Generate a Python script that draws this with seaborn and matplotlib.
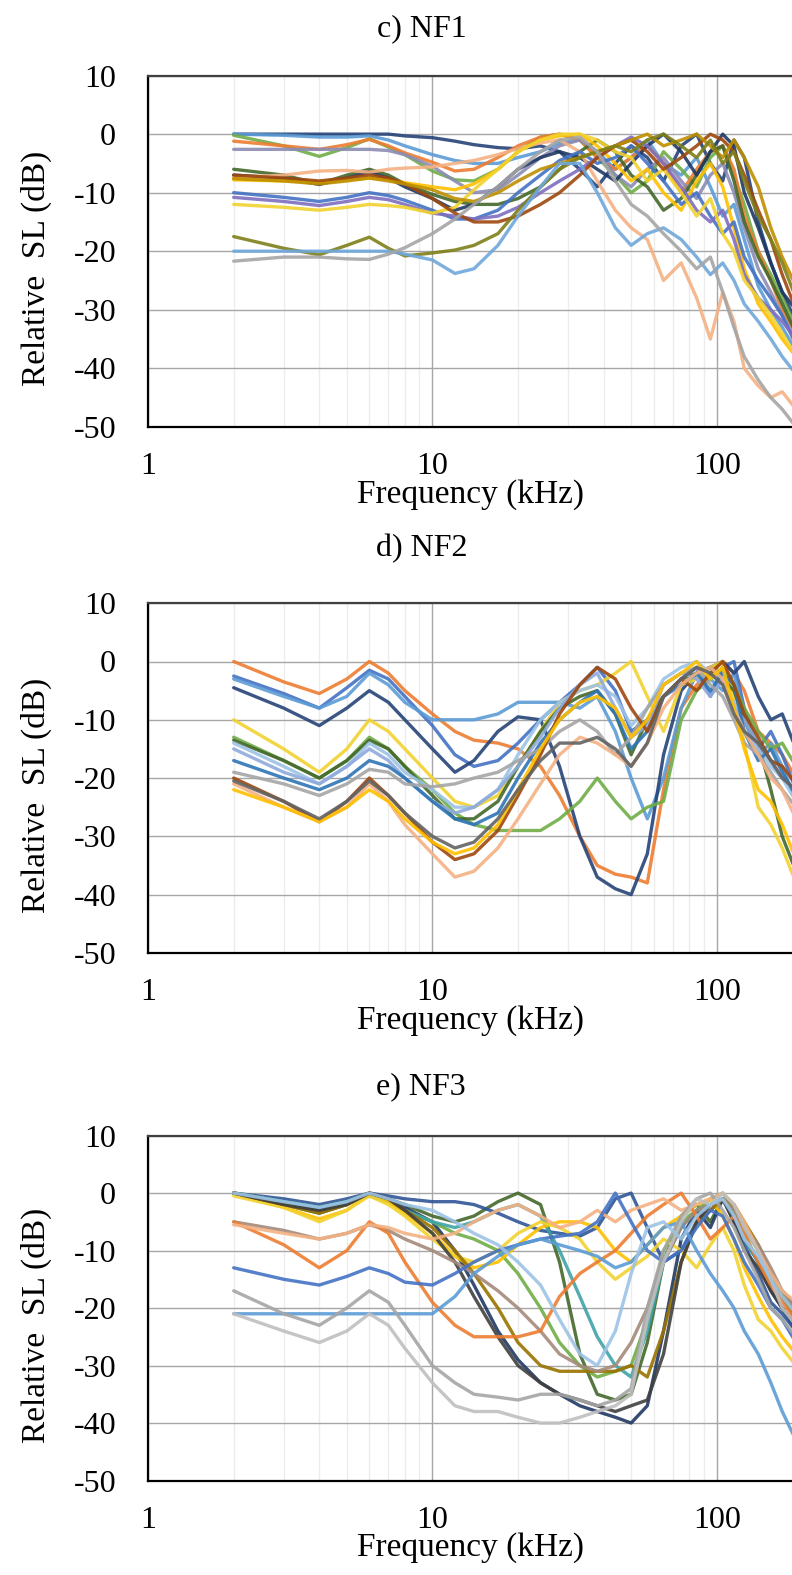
import numpy as np
import pandas as pd
import matplotlib
matplotlib.use("Agg")
import matplotlib.pyplot as plt
import matplotlib.ticker as mticker
import seaborn as sns

sns.set_theme(style="white")
plt.rcParams["font.family"] = ["Liberation Serif", "DejaVu Serif"]
plt.rcParams["axes.unicode_minus"] = False
for key in ("text.color", "axes.labelcolor", "xtick.color", "ytick.color"):
    plt.rcParams[key] = "black"

# Frequency grid (kHz) shared by every response curve
freq_khz = [2, 3, 4, 5, 6, 7, 8, 10, 12, 14, 17, 20, 24, 28, 33, 38, 44, 50,
            57, 65, 75, 85, 95, 105, 115, 125, 140, 155, 170, 190]

x_ticks = [1, 10, 100]
x_tick_labels = ["1", "10", "100"]
y_ticks = [-50, -40, -30, -20, -10, 0, 10]
y_tick_labels = ["-50", "-40", "-30", "-20", "-10", "0", "10"]

# ---- c) NF1: relative source level (dB) per recording ----
nf1_curves = {
    "#264478": [0, 0, 0, 0, 0, 0, -0.3, -0.6, -1.2, -1.8, -2.3, -2.5, -2, -3, -6, -9, -5, -2, -4, -8, -2, 0, -5, -8, -1, -4, -15, -22, -27, -32],
    "#5B9BD5": [0, -0.2, -0.5, -0.5, -0.3, -1, -2, -3.5, -4.5, -5, -5, -4, -3, -1.5, -1, -3, -6, -4, -1, -5, -7, -4, -9, -14, -12, -18, -26, -30, -33, -37],
    "#70AD47": [-0.2, -2, -3.8, -2.3, -0.8, -2.2, -3.5, -6.3, -7.8, -8, -6, -3, -0.5, 0, -1, -4, -7, -10, -8, -3, -6, -9, -4, -2, -7, -12, -20, -24, -28, -33],
    "#ED7D31": [-1.2, -2, -2.6, -1.8, -0.9, -2, -3.2, -4.8, -6.3, -6, -4, -2, -0.5, 0, -1, -4, -6, -4, -2, -5, -10, -6, -3, -2, -6, -14, -20, -25, -30, -34],
    "#8C8CB4": [-2.6, -2.6, -2.6, -2.6, -2.6, -2.8, -3.5, -5.5, -8, -10, -9.5, -7, -4, -2, -1, -3, -7, -9, -6, -4, -8, -11, -7, -5, -10, -16, -23, -27, -31, -35],
    "#43682B": [-6, -7, -8.5, -7, -6, -7, -8.5, -10.3, -11.5, -12, -12, -11, -9, -6, -3, -1, -3, -7, -9, -13, -11, -7, -3, -2, -8, -15, -21, -25, -29, -34],
    "#1F3864": [-7, -7.5, -8.6, -7.5, -6.5, -7.5, -9, -11, -13, -12, -9, -6, -4, -3, -4, -6, -8, -5, -2, 0, -3, -7, -3, 0, -2, -10, -16, -22, -27, -30],
    "#F4B183": [-7.4, -7, -6.3, -6.2, -6.5, -6, -5.8, -5.6, -5, -4.5, -3.5, -2.5, -1.5, -1, -3, -8, -13, -16, -18, -25, -22, -28, -35, -27, -32, -40, -43, -45, -44, -47],
    "#FFC000": [-7.8, -8, -8.2, -7.8, -7.5, -7.8, -8.3, -9, -9.5, -8.5, -6, -3, -1, -0.3, 0, -2, -5, -8, -6, -10, -13, -8, -5, -9, -16, -23, -29, -32, -35, -38],
    "#4472C4": [-10, -10.8, -11.5, -10.8, -10, -10.5, -11.3, -13, -14.5, -14.5, -13, -10, -7, -4.5, -3, -5, -4, -2, -5, -8, -12, -10, -14, -17, -15, -21, -25, -28, -31, -36],
    "#7F6FBF": [-10.8, -11.5, -12.2, -11.5, -10.8, -11.2, -12, -13.5, -14, -14.5, -14, -12.5, -10, -8, -6, -4, -2, -0.5, -2, -5, -9, -13, -15, -13, -18, -24, -28, -30, -32, -35],
    "#F2D22E": [-12, -12.5, -13, -12.5, -12, -12.2, -12.5, -13.5, -12.5, -9.5, -6, -3, -1, 0, 0, -1, -3, -4, -8, -6, -10, -14, -11, -17, -20, -25, -28, -31, -34, -38],
    "#9E480E": [-7, -7.5, -8, -7.5, -7, -7.5, -8.5, -11, -13.5, -15, -15, -14, -12, -10, -7, -4, -2, -1, -3, -6, -4, -2, 0, -1, -3, -7, -13, -18, -24, -30],
    "#BF8F00": [-7.6, -8, -8.5, -8, -7.5, -8, -8.5, -9.5, -11, -11.5, -10, -8, -6, -5, -4, -3, -2, -1, 0, -2, -1, 0, -2, -4, -1, -4, -9, -16, -21, -26],
    "#7F7F1A": [-17.5, -19.5, -20.6, -19, -17.6, -19.5, -20.8, -20.3, -19.8, -19, -17, -13, -9, -6, -4, -3, -2, -3, -1, 0, -2, -4, -1, -5, -3, -8, -14, -18, -22, -28],
    "#6FA8DC": [-20, -20, -20, -20, -20, -20, -20.5, -21.5, -23.8, -23, -19, -14, -9, -5, -5, -10, -16, -19, -17, -16, -18, -21, -24, -22, -25, -29, -32, -35, -38, -41],
    "#A5A5A5": [-21.7, -21, -21, -21.3, -21.4, -20.5, -19.4, -17, -14.5, -12, -9, -6, -3, -1, -0.5, -3, -8, -12, -14, -17, -20, -23, -21, -27, -33, -38, -42, -45, -47, -50],
}

# ---- d) NF2 ----
nf2_curves = {
    "#ED7D31": [0, -3.5, -5.5, -3, 0, -2, -5, -9, -12, -13.5, -14, -15, -18, -23, -30, -35, -36.5, -37, -38, -22, -8, -4, -2, 0, -2, -5, -12, -14, -16, -20],
    "#4472C4": [-2.5, -5.5, -8, -4.5, -1.5, -3, -6, -11, -16, -18, -17, -14, -10, -7, -4, -1, -5, -12, -10, -6, -3, -1, -6, -1, 0, -8, -15, -12, -16, -22],
    "#5B9BD5": [-3, -6, -8, -6, -2, -4, -7, -10, -10, -10, -9, -7, -7, -7, -8, -6, -12, -20, -27, -20, -8, -2, -3, -5, -2, -10, -16, -14, -18, -24],
    "#264478": [-4.5, -8, -11, -8, -5, -7, -10, -15, -19, -17, -12, -9.5, -10, -18, -30, -37, -39, -40, -33, -16, -5, -2, -1, 0, -2, 0, -6, -10, -9, -15],
    "#F2D22E": [-10, -15, -19, -15, -10, -12, -15, -20, -24, -25, -23, -18, -12, -7, -5, -4, -2, 0, -6, -12, -4, -3, -1, 0, -6, -14, -25, -28, -32, -38],
    "#70AD47": [-13, -17, -20, -17, -13, -15, -18, -22, -26, -28, -29, -29, -29, -27, -24, -20, -24, -27, -25, -24, -10, -5, -3, -1, -4, -8, -12, -15, -14, -18],
    "#43682B": [-13.5, -17, -20, -17, -13.5, -15, -18, -23, -27, -27, -24, -18, -12, -8, -6, -5, -9, -16, -10, -6, -3, -2, -1, -3, -5, -10, -14, -22, -30, -36],
    "#9DC3E6": [-14, -18, -21, -18, -14, -16, -19, -22, -25, -25, -22, -16, -10, -7, -5, -4, -6, -11, -8, -3, -1, 0, -2, -4, -7, -12, -15, -18, -20, -24],
    "#8FAADC": [-15, -19, -21, -18, -15, -17, -20, -24, -26, -25, -22, -18, -13, -8, -4, -2, -8, -13, -11, -4, -2, -3, -6, -3, -8, -10, -14, -17, -20, -22],
    "#2E75B6": [-17, -20, -22, -20, -17, -18, -20, -24, -27, -28, -26, -20, -14, -10, -7, -5, -9, -15, -12, -6, -4, -2, -5, -2, -4, -12, -17, -15, -19, -23],
    "#A5A5A5": [-19, -21, -23, -21, -18.5, -19, -21, -21.5, -21, -20, -19, -17, -15, -12, -10, -12, -16, -13, -8, -4, -2, -1, -4, -6, -10, -14, -16, -19, -22, -25],
    "#9E480E": [-20, -24, -27.5, -24, -20, -23, -26, -31, -34, -33, -29, -23, -16, -9, -4, -1, -3, -8, -12, -6, -3, -5, -2, 0, -4, -9, -13, -17, -18, -21],
    "#F4B183": [-21, -25, -27.5, -25, -21, -24, -28, -33, -37, -36, -32, -27, -21, -16, -13, -14, -16, -18, -14, -8, -4, -2, -1, -3, -8, -12, -16, -20, -22, -27],
    "#FFC000": [-22, -25, -27.5, -25, -22, -24, -27, -31, -33, -32, -28, -22, -15, -10, -7, -6, -8, -13, -10, -4, -2, 0, -3, -1, -8, -15, -22, -24, -28, -34],
    "#636363": [-20.5, -24, -27, -24, -20.5, -23, -26, -30, -32, -31, -27, -22, -17, -14, -14, -13, -15, -18, -14, -6, -3, -1, -2, -4, -9, -12, -14, -17, -20, -22],
}

# ---- e) NF3 ----
nf3_curves = {
    "#43682B": [0, -2, -3.5, -2, 0, -1, -2, -4, -5, -4, -1.5, 0, -2, -12, -28, -35, -36, -35, -26, -12, -4, -2, -5, -1, -3, -6, -10, -15, -18, -22],
    "#203864": [0, -1.5, -3, -1.5, 0, -1, -2.5, -5, -10, -16, -24, -29, -33, -35, -37, -38, -39, -40, -37, -24, -8, -3, -6, -1, -4, -8, -12, -17, -20, -24],
    "#2F5597": [0, -1, -2, -1, 0, -0.5, -1, -1.5, -1.5, -2, -3.5, -5, -6.5, -7, -7.5, -6, -1, 0, -6, -12, -10, -5, -3, -1, -5, -9, -14, -19, -21, -24],
    "#70AD47": [0, -1.5, -2.5, -1.5, 0, -1.5, -3, -5, -7, -8, -10, -14, -20, -26, -30, -32, -31, -30, -22, -10, -5, -3, -1, 0, -3, -7, -12, -16, -18, -21],
    "#3FA3A8": [0, -1.5, -2.5, -1.5, -0.5, -1.5, -3, -5, -6, -5, -3, -2, -4, -10, -18, -25, -30, -32, -24, -12, -6, -3, -2, -1, -4, -8, -12, -15, -17, -20],
    "#FFC000": [0, -2.5, -4.5, -3, 0, -1.5, -3.5, -7, -11, -13, -12, -9, -6, -5, -5, -6, -10, -12, -9, -6, -4, -2, -1, -4, -8, -13, -18, -22, -25, -28],
    "#F2D22E": [-0.5, -2.5, -5, -3, -0.5, -2, -4, -8, -11, -12, -10, -7, -5, -6, -8, -12, -15, -13, -11, -8, -10, -13, -9, -6, -10, -16, -22, -24, -27, -30],
    "#997300": [0, -2, -3.5, -2, 0, -1, -3, -6, -10, -14, -20, -26, -30, -31, -31, -31, -31, -30, -32, -24, -12, -5, -3, -1, -2, -5, -9, -14, -18, -21],
    "#404040": [0, -2, -3, -2, 0, -1, -3, -7, -12, -18, -25, -30, -33, -35, -36, -37, -38, -37, -36, -28, -12, -5, -2, -1, -5, -10, -13, -17, -20, -23],
    "#A48A7B": [-5, -6.5, -8, -7, -5.5, -6.5, -8, -10, -12, -14, -17, -20, -24, -28, -30, -31, -30, -26, -20, -12, -6, -3, -2, -1, -3, -6, -9, -13, -17, -20],
    "#ED7D31": [-5, -9, -13, -10, -5, -7, -12, -19, -23, -25, -25, -25, -24, -18, -14, -12, -10, -7, -4, -2, 0, -4, -8, -6, -4, -7, -12, -16, -19, -22],
    "#F4B183": [-5.5, -7, -8, -7, -5.5, -6, -7, -8, -7, -5, -3, -2, -4, -6, -5, -3, -5, -3, -2, -1, -3, -2, -1, 0, -2, -5, -10, -14, -17, -19],
    "#4472C4": [-13, -15, -16, -14.5, -13, -14, -15.5, -16, -14, -12, -10, -9, -8, -7.5, -7, -5, 0, -5, -10, -12, -10, -6, -3, -4, -8, -12, -16, -20, -22, -26],
    "#5B9BD5": [-21, -21, -21, -21, -21, -21, -21, -21, -18, -14, -11, -9, -8, -9, -10, -11, -13, -12, -9, -6, -5, -10, -14, -17, -20, -24, -28, -33, -38, -43],
    "#A5A5A5": [-17, -21, -23, -20, -17, -19, -23, -30, -33, -35, -35.5, -36, -35, -35, -36, -37, -36, -34, -20, -10, -4, -1, 0, -3, -6, -10, -15, -20, -22, -25],
    "#BFBFBF": [-21, -24, -26, -24, -21, -23, -27, -33, -37, -38, -38, -39, -40, -40, -39, -38, -37, -35, -22, -12, -5, -1, -2, 0, -2, -6, -10, -15, -20, -23],
    "#9DC3E6": [0, -1.5, -2.5, -1.5, 0, -1, -2, -3, -5, -7, -9, -12, -16, -22, -28, -30, -24, -14, -6, -5, -8, -4, -2, -1, -4, -8, -11, -15, -18, -21],
}

panels = [
    ("c) NF1", nf1_curves),
    ("d) NF2", nf2_curves),
    ("e) NF3", nf3_curves),
]

fig = plt.figure(figsize=(7.92, 15.75), dpi=100)
fig.patch.set_facecolor("white")

# axes boxes in figure fractions: left, bottom, width, height
boxes = [
    [0.187, 0.729, 0.813, 0.223],
    [0.187, 0.395, 0.813, 0.222],
    [0.187, 0.060, 0.813, 0.219],
]
title_y = [0.982, 0.652, 0.310]

for (title, curves), box, ty in zip(panels, boxes, title_y):
    ax = fig.add_axes(box)
    rows = []
    for color, levels in curves.items():
        for f, v in zip(freq_khz, levels):
            rows.append({"freq": f, "level": v, "curve": color})
    df = pd.DataFrame(rows)
    sns.lineplot(data=df, x="freq", y="level", hue="curve",
                 palette={c: c for c in curves}, estimator=None, sort=False,
                 legend=False, ax=ax, linewidth=2.4, alpha=0.9)

    ax.set_xscale("log")
    ax.set_xlim(1, 184)
    ax.set_ylim(-50, 10)
    ax.xaxis.set_major_locator(mticker.FixedLocator(x_ticks))
    ax.xaxis.set_major_formatter(mticker.FixedFormatter(x_tick_labels))
    ax.xaxis.set_minor_locator(mticker.LogLocator(base=10, subs=np.arange(2, 10)))
    ax.xaxis.set_minor_formatter(mticker.NullFormatter())
    ax.yaxis.set_major_locator(mticker.FixedLocator(y_ticks))
    ax.yaxis.set_major_formatter(mticker.FixedFormatter(y_tick_labels))

    ax.grid(True, which="major", axis="both", color="#A6A6A6", linewidth=1.0)
    ax.grid(True, which="minor", axis="x", color="#ECECEC", linewidth=1.0)
    ax.set_axisbelow(True)

    for side in ("left", "bottom"):
        ax.spines[side].set_color("black")
        ax.spines[side].set_linewidth(1.6)
    ax.spines["top"].set_color("#404040")
    ax.spines["top"].set_linewidth(1.6)
    ax.spines["right"].set_visible(False)

    ax.tick_params(axis="both", which="major", direction="out", length=9,
                   width=1.4, color="black", labelsize=23, pad=14)
    ax.tick_params(axis="x", which="major", pad=9)
    ax.tick_params(axis="x", which="minor", length=0)
    ax.tick_params(top=False, right=False)

    ax.set_xlabel("Frequency (kHz)", fontsize=24, labelpad=0)
    ax.set_ylabel("Relative  SL (dB)", fontsize=24)
    ax.xaxis.set_label_coords(0.5, -0.15)
    ax.yaxis.set_label_coords(-0.15, 0.45)

    fig.text(0.532, ty, title, ha="center", va="center", fontsize=23)

fig.savefig("out.png", dpi=100, facecolor="white")
